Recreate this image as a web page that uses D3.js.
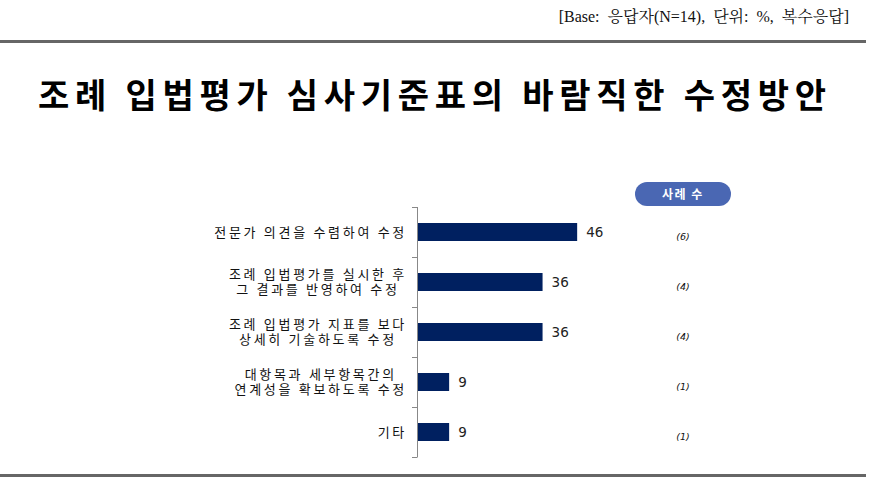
<!DOCTYPE html>
<html><head><meta charset="utf-8">
<script src="https://cdn.jsdelivr.net/npm/d3@7"></script>
<style>
html,body{margin:0;padding:0;background:#fff;}
svg{display:block;}
</style></head>
<body>
<svg id="chart" width="874" height="499"></svg>
<script>
const titleText = "조례 입법평가 심사기준표의 바람직한 수정방안";
const baseNote = "[Base:  응답자(N=14),  단위:  %,  복수응답]";
const categories = [
  ["전문가 의견을 수렴하여 수정"],
  ["조례 입법평가를 실시한 후", "그 결과를 반영하여 수정"],
  ["조례 입법평가 지표를 보다", "상세히 기술하도록 수정"],
  ["대항목과 세부항목간의", "연계성을 확보하도록 수정"],
  ["기타"]
];
const values = [46, 36, 36, 9, 9];
const caseCounts = [6, 4, 4, 1, 1];
const badgeLabel = "사례 수";

const svg = d3.select("#chart");

// header line & note
svg.append("text").attr("x", 849).attr("y", 22).attr("text-anchor", "end")
  .attr("font-family", "'Liberation Serif', 'Noto Serif CJK KR', 'Noto Sans CJK KR', serif")
  .attr("font-size", 16).attr("fill", "#111").attr("xml:space","preserve").text(baseNote);
svg.append("rect").attr("x", 0).attr("y", 40).attr("width", 866).attr("height", 3).attr("fill", "#666");
svg.append("rect").attr("x", 0).attr("y", 474).attr("width", 866).attr("height", 3).attr("fill", "#666");

// title
svg.append("text").attr("x", 38).attr("y", 108)
  .attr("font-family", "'Noto Sans CJK KR', sans-serif").attr("font-weight", "bold")
  .attr("font-size", 34).attr("fill", "#000")
  .attr("textLength", 788).attr("lengthAdjust", "spacing")
  .text(titleText);

const idx = d3.range(categories.length);
const y = d3.scaleBand().domain(idx).range([207, 457]).paddingInner(0.64).paddingOuter(0.32);
const x = d3.scaleLinear().domain([0, 100]).range([418, 764]);
const step = y.step();

const g = svg.append("g");
// bars
g.selectAll("rect.bar").data(idx).join("rect").attr("class", "bar")
  .attr("x", x(0)).attr("y", i => y(i)).attr("width", i => x(values[i]) - x(0))
  .attr("height", y.bandwidth()).attr("fill", "#002060");

// axis line & ticks at band boundaries
const bounds = idx.map(i => y(i) - step * y.paddingInner() / 2).concat([y(idx.length-1) + y.bandwidth() + step*y.paddingInner()/2]);
g.append("line").attr("x1", 417.5).attr("x2", 417.5).attr("y1", bounds[0]).attr("y2", bounds[bounds.length-1])
  .attr("stroke", "#888").attr("stroke-width", 1);
g.selectAll("line.tick").data(bounds).join("line").attr("class","tick")
  .attr("x1", 412).attr("x2", 417.5).attr("y1", d => d + 0.5).attr("y2", d => d + 0.5)
  .attr("stroke", "#888").attr("stroke-width", 1);

// value labels
g.selectAll("text.val").data(idx).join("text").attr("class","val")
  .attr("x", i => x(values[i]) + 9).attr("y", i => y(i) + y.bandwidth()/2 + 5)
  .attr("font-family", "'DejaVu Sans', sans-serif").attr("font-size", 13.5).attr("fill", "#222")
  .text(i => values[i]);

// category labels
const labelFont = "'Noto Sans CJK KR', sans-serif";
idx.forEach(i => {
  const lines = categories[i];
  const cy = y(i) + y.bandwidth()/2;
  const n = lines.length;
  const ts = lines.map((ln, k) => g.append("text").attr("font-family", labelFont).attr("font-size", 13)
    .attr("fill", "#111").attr("letter-spacing", 2.7).attr("text-anchor", "middle")
    .attr("y", cy + (k - (n-1)/2) * 14.5 + 4.5).text(ln));
  const maxW = d3.max(ts, t => t.node().getComputedTextLength());
  const centerX = 407 - maxW/2;
  ts.forEach(t => t.attr("x", centerX));
});

// badge
const bcx = 683;
svg.append("rect").attr("x", 635).attr("y", 182).attr("width", 96).attr("height", 24)
  .attr("rx", 12).attr("fill", "#4a67b3");
svg.append("text").attr("x", bcx).attr("y", 198.5).attr("text-anchor", "middle")
  .attr("font-family", labelFont).attr("font-weight", "bold").attr("font-size", 12)
  .attr("letter-spacing", 1.5).attr("fill", "#fff").text(badgeLabel);

// case counts
g.selectAll("text.cnt").data(idx).join("text").attr("class","cnt")
  .attr("x", bcx).attr("y", i => y(i) + y.bandwidth()/2 + 8).attr("text-anchor", "middle")
  .attr("font-family", "'DejaVu Sans', sans-serif").attr("font-style", "italic").attr("font-size", 9.5)
  .attr("fill", "#111").text(i => "(" + caseCounts[i] + ")");
</script>
</body></html>
